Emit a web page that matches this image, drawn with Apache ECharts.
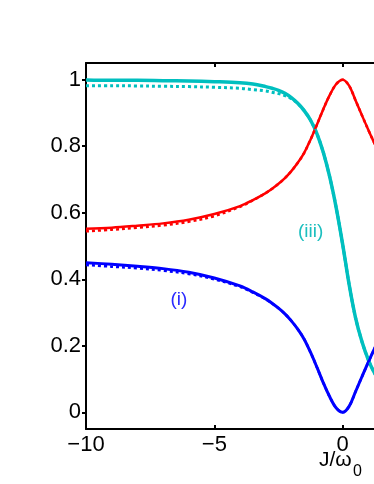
<!DOCTYPE html>
<html>
<head>
<meta charset="utf-8">
<script src="https://cdn.jsdelivr.net/npm/echarts@6/dist/echarts.min.js"></script>
<style>
  html, body { margin: 0; padding: 0; background: #fff; }
  #chart { width: 374px; height: 484px; }
</style>
</head>
<body>
<div id="chart"></div>
<script>
// J/omega0 sample points
const xs = [-10, -9, -8, -7, -6, -5, -4, -3.5, -3, -2.75, -2.5, -2.25, -2, -1.75, -1.5, -1.25, -1, -0.75, -0.5, -0.25, 0, 0.25, 0.5, 0.75, 1, 1.25, 1.5];

// (i) blue
const blueSolid  = [0.450, 0.445, 0.439, 0.432, 0.421, 0.404, 0.380, 0.362, 0.341, 0.328, 0.313, 0.296, 0.275, 0.250, 0.220, 0.180, 0.135, 0.088, 0.046, 0.013, 0.000, 0.018, 0.062, 0.107, 0.151, 0.193, 0.230];
const blueDotted = [0.443, 0.438, 0.433, 0.426, 0.416, 0.400, 0.377, 0.360, 0.340, 0.327, 0.313, 0.296, 0.275, 0.250, 0.220, 0.180, 0.135, 0.088, 0.046, 0.013, 0.000, 0.018, 0.062, 0.107, 0.151, 0.193, 0.230];
// (ii) red
const redSolid   = [0.552, 0.555, 0.561, 0.568, 0.579, 0.596, 0.620, 0.638, 0.659, 0.672, 0.687, 0.704, 0.725, 0.750, 0.780, 0.820, 0.865, 0.912, 0.954, 0.987, 1.000, 0.982, 0.938, 0.893, 0.849, 0.807, 0.770];
const redDotted  = [0.544, 0.549, 0.555, 0.562, 0.573, 0.590, 0.618, 0.637, 0.659, 0.672, 0.687, 0.704, 0.725, 0.750, 0.780, 0.820, 0.865, 0.912, 0.954, 0.987, 1.000, 0.982, 0.938, 0.893, 0.849, 0.807, 0.770];
// (iii) cyan
const cyanSolid  = [0.999, 0.998, 0.998, 0.997, 0.996, 0.994, 0.991, 0.987, 0.979, 0.974, 0.968, 0.959, 0.946, 0.929, 0.907, 0.878, 0.837, 0.780, 0.706, 0.614, 0.505, 0.385, 0.285, 0.213, 0.158, 0.117, 0.090];
const cyanDotted = [0.982, 0.982, 0.981, 0.980, 0.979, 0.977, 0.974, 0.970, 0.966, 0.962, 0.958, 0.952, 0.943, 0.928, 0.907, 0.878, 0.837, 0.780, 0.706, 0.614, 0.505, 0.385, 0.285, 0.213, 0.158, 0.117, 0.090];

const yTicks = [0, 0.2, 0.4, 0.6, 0.8, 1];
const curveLabels = [
  { text: '(i)', x: -6.38, y: 0.338, color: '#2a2aff' },
  { text: '(iii)', x: -1.25, y: 0.543, color: '#1cbfbf' }
];

const BLUE = '#0000ff', RED = '#ff0000', CYAN = '#00bfbf';
const FONT = 'Liberation Sans, Arial, Helvetica, sans-serif';

const pairs = arr => xs.map((x, i) => [x, arr[i]]);

const chart = echarts.init(document.getElementById('chart'));

const line = (data, color, width, dotted) => ({
  type: 'line',
  data: pairs(data),
  smooth: 0.35,
  symbol: 'none',
  animation: false,
  lineStyle: { color: color, width: width, type: dotted ? [3, 3] : 'solid', cap: 'butt' },
  z: dotted ? 3 : 2
});

const option = {
  backgroundColor: '#fff',
  grid: { left: 86, top: 63, width: 308, height: 366, containLabel: false, outerBoundsMode: 'none' },
  xAxis: [
    {
      type: 'value', min: -10, max: 2, interval: 5, position: 'bottom',
      axisLine: { onZero: false, lineStyle: { color: '#000', width: 2 } },
      axisTick: { inside: true, length: 4, lineStyle: { color: '#000', width: 2 } },
      axisLabel: {
        color: '#000', fontSize: 22, fontFamily: FONT, margin: 5,
        formatter: v => (v < 0 ? '\u2212' + Math.abs(v) : String(v))
      },
      splitLine: { show: false }
    },
    {
      type: 'value', min: -10, max: 2, interval: 5, position: 'top',
      axisLine: { onZero: false, lineStyle: { color: '#000', width: 2 } },
      axisTick: { inside: true, length: 4, lineStyle: { color: '#000', width: 2 } },
      axisLabel: { show: false },
      splitLine: { show: false }
    }
  ],
  yAxis: {
    type: 'value', min: -0.05, max: 1.05,
    axisLine: { show: true, onZero: false, lineStyle: { color: '#000', width: 2 } },
    axisTick: { show: true, length: 4, customValues: yTicks, lineStyle: { color: '#000', width: 2 } },
    axisLabel: {
      color: '#000', fontSize: 22, fontFamily: FONT, margin: 5,
      customValues: yTicks, formatter: v => String(v)
    },
    splitLine: { show: false }
  },
  series: [
    line(cyanSolid, CYAN, 3.5, false),
    line(cyanDotted, CYAN, 3, true),
    line(redSolid, RED, 2.5, false),
    line(redDotted, RED, 2.5, true),
    Object.assign(line(blueSolid, BLUE, 3, false), {
      markPoint: {
        symbol: 'circle', symbolSize: 0, animation: false,
        label: { show: true, position: 'inside', fontSize: 19, fontFamily: FONT },
        data: curveLabels.map(l => ({
          coord: [l.x, l.y], value: l.text,
          label: { formatter: l.text, color: l.color }
        }))
      }
    }),
    line(blueDotted, BLUE, 2.5, true)
  ],
  graphic: [
    { type: 'text', left: 319, top: 450, style: { text: 'J/\u03c9', fontSize: 21, fontFamily: FONT, fill: '#000' } },
    { type: 'text', left: 353, top: 464, style: { text: '0', fontSize: 16, fontFamily: FONT, fill: '#000' } }
  ]
};

chart.setOption(option);
</script>
</body>
</html>
